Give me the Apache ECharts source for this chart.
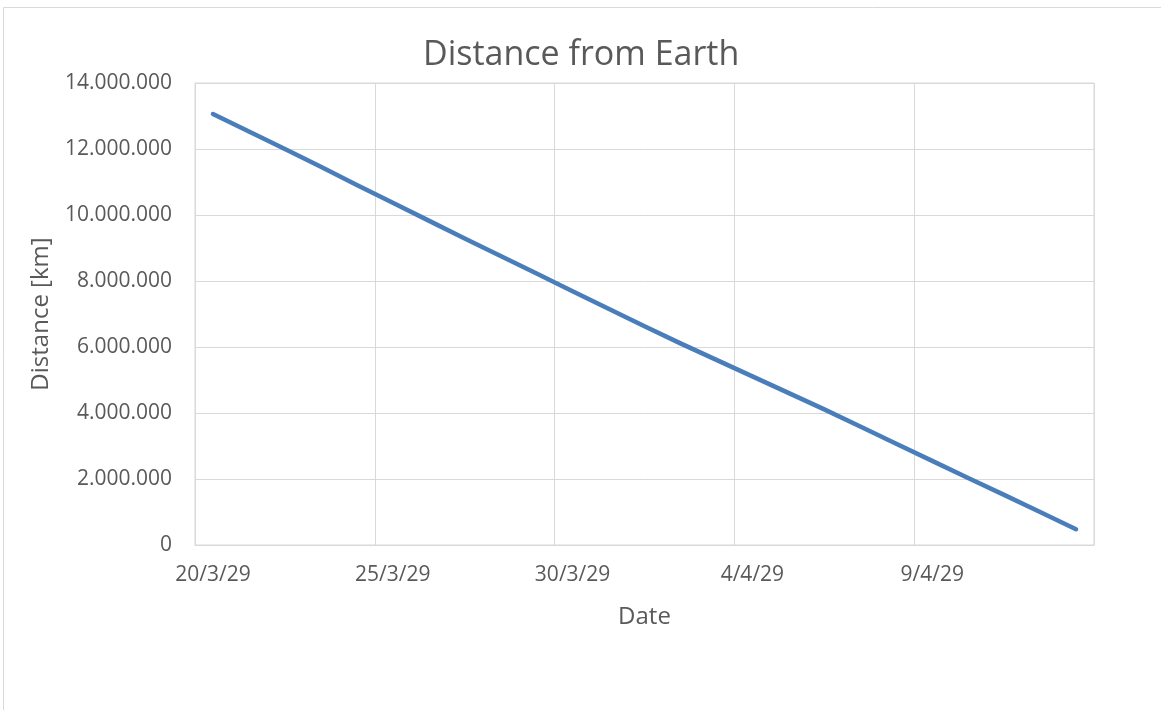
<!DOCTYPE html>
<html>
<head>
<meta charset="utf-8">
<title>Distance from Earth</title>
<script src="https://cdn.jsdelivr.net/npm/echarts@6/dist/echarts.min.js"></script>
<style>
  html, body { margin: 0; padding: 0; background: #ffffff; }
  #chart { width: 1161px; height: 710px; }
</style>
</head>
<body>
<div id="chart"></div>
<script>
// Daily dates (dd/m/yy) of the approach window
const dates = [
  '20/3/29', '21/3/29', '22/3/29', '23/3/29', '24/3/29',
  '25/3/29', '26/3/29', '27/3/29', '28/3/29', '29/3/29',
  '30/3/29', '31/3/29', '1/4/29', '2/4/29', '3/4/29',
  '4/4/29', '5/4/29', '6/4/29', '7/4/29', '8/4/29',
  '9/4/29', '10/4/29', '11/4/29', '12/4/29', '13/4/29'
];

// Distance from Earth on each day, in km
const distanceKm = [
  13060000, 12530000, 12000000, 11460000, 10910000,
  10370000, 9830000, 9290000, 8760000, 8230000,
  7690000, 7160000, 6630000, 6110000, 5610000,
  5110000, 4610000, 4110000, 3590000, 3070000,
  2550000, 2030000, 1520000, 1000000, 480000
];

// Value axis range
const yMin = 0;
const yMax = 14000000;
const yStep = 2000000;

const textColor = '#595959';
const gridColor = '#d9d9d9';
const font = '"Open Sans", "Liberation Sans", sans-serif';

// Thousands separated with dots: 14.000.000
function dotThousands(v) {
  return String(Math.round(v)).replace(/\B(?=(\d{3})+(?!\d))/g, '.');
}

const chart = echarts.init(document.getElementById('chart'));

chart.setOption({
  backgroundColor: '#ffffff',
  animation: false,
  graphic: [{
    // chart area frame
    type: 'rect',
    shape: { x: 3.5, y: 7.5, width: 1200, height: 800 },
    style: { fill: 'none', stroke: gridColor, lineWidth: 1 },
    silent: true
  }],
  title: {
    text: 'Distance from Earth',
    left: 418,
    top: 33,
    textStyle: {
      color: textColor,
      fontFamily: font,
      fontSize: 34,
      fontWeight: 'normal'
    }
  },
  grid: {
    left: 195,
    right: 67,
    top: 83,
    bottom: 165,
    show: true,
    borderColor: gridColor,
    borderWidth: 1
  },
  xAxis: {
    type: 'category',
    data: dates,
    boundaryGap: true,
    name: 'Date',
    nameLocation: 'middle',
    nameGap: 60,
    nameTextStyle: { color: textColor, fontFamily: font, fontSize: 24 },
    axisLine: { show: true, lineStyle: { color: gridColor, width: 1 } },
    axisTick: { show: false, interval: 4 },
    axisLabel: {
      interval: 4,
      margin: 20,
      color: textColor,
      fontFamily: font,
      fontSize: 21
    },
    splitLine: {
      show: true,
      interval: 4,
      lineStyle: { color: gridColor, width: 1 }
    }
  },
  yAxis: {
    type: 'value',
    min: yMin,
    max: yMax,
    interval: yStep,
    name: 'Distance [km]',
    nameLocation: 'middle',
    nameGap: 142,
    nameRotate: 90,
    nameTextStyle: { color: textColor, fontFamily: font, fontSize: 24 },
    axisLine: { show: false },
    axisTick: { show: false },
    axisLabel: {
      margin: 23,
      color: textColor,
      fontFamily: font,
      fontSize: 21,
      formatter: dotThousands
    },
    splitLine: { show: true, lineStyle: { color: gridColor, width: 1 } }
  },
  series: [{
    name: 'Distance',
    type: 'line',
    data: distanceKm,
    showSymbol: false,
    symbol: 'none',
    lineStyle: { color: '#4a7ebb', width: 4.5, cap: 'round', join: 'round' },
    itemStyle: { color: '#4a7ebb' }
  }]
});
</script>
</body>
</html>
